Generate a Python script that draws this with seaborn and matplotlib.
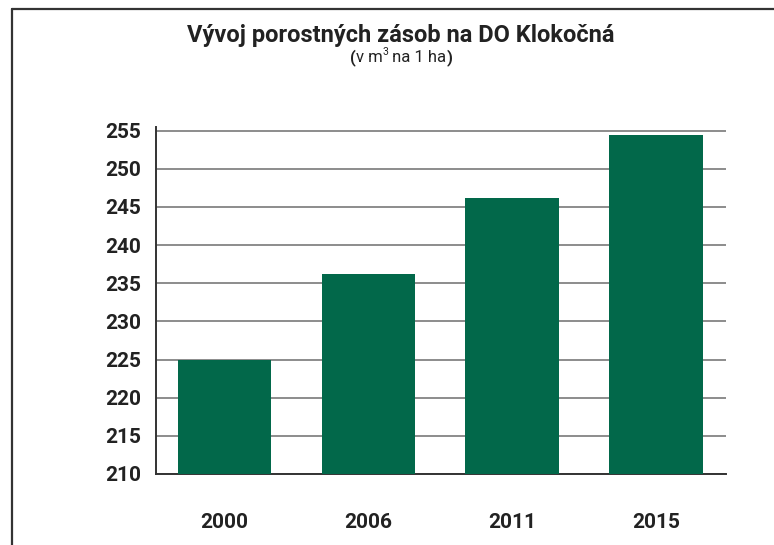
# vyvoj_zasob.py
# bar chart of growing stock on DO Klokočná

import pandas as pd
import matplotlib.pyplot as plt
import seaborn as sns
from matplotlib.lines import Line2D

years = ["2000", "2006", "2011", "2015"]
volume = [225.0, 236.2, 246.2, 254.4]
y_ticks = [210, 215, 220, 225, 230, 235, 240, 245, 250, 255]

title = "Vývoj porostných zásob na DO Klokočná"

sns.set_style("white")
plt.rcParams["font.family"] = ["Roboto", "DejaVu Sans"]

df = pd.DataFrame({"year": years, "volume": volume})

fig = plt.figure(figsize=(7.74, 5.45), dpi=100)
ax = fig.add_axes([0.2016, 0.1303, 0.736, 0.637])

sns.barplot(data=df, x="year", y="volume", color="#02684A", saturation=1,
            width=0.65, linewidth=0, ax=ax, zorder=3)

ax.set_ylim(210, 255.5)
ax.set_xlim(-0.476, 3.485)
ax.set_yticks(y_ticks)
ax.set_xlabel("")
ax.set_ylabel("")
ax.yaxis.grid(True, color="#6e6e6e", linewidth=1.1, zorder=0)
ax.set_axisbelow(True)
for s in ["top", "right"]:
    ax.spines[s].set_visible(False)
ax.spines["left"].set_color("#333333")
ax.spines["left"].set_linewidth(1.4)
ax.spines["bottom"].set_color("#333333")
ax.spines["bottom"].set_linewidth(1.4)
ax.tick_params(axis="y", length=0, pad=11, labelsize=15, labelcolor="#222222")
ax.tick_params(axis="x", length=0, pad=28, labelsize=15, labelcolor="#222222")
for lab in ax.get_xticklabels() + ax.get_yticklabels():
    lab.set_fontweight("bold")

# title
fig.text(0.518, 0.934, title, ha="center", va="center", fontsize=17,
         fontweight="bold", color="#222222")

# subtitle with bold brackets and superscript
renderer = fig.canvas.get_renderer()
pieces = [("(", 12, "bold", 0), ("v m", 12, "normal", 0), ("3", 7.5, "normal", 0.009),
          (" na 1 ha", 12, "normal", 0), (")", 12, "bold", 0)]
texts = []
total = 0
for s, size, weight, dy in pieces:
    t = fig.text(0, 0.895 + dy, s, fontsize=size, fontweight=weight,
                 color="#222222", va="center", ha="left")
    w = t.get_window_extent(renderer).width / fig.bbox.width
    texts.append((t, w))
    total += w
x = 0.518 - total / 2
for t, w in texts:
    t.set_x(x)
    x += w

# frame lines
fig.add_artist(Line2D([0.0155, 1.0], [0.9835, 0.9835], color="#333333",
                      linewidth=1.6, transform=fig.transFigure))
fig.add_artist(Line2D([0.0155, 0.0155], [0.0, 0.9835], color="#333333",
                      linewidth=1.6, transform=fig.transFigure))

fig.savefig("out.png", dpi=100)
